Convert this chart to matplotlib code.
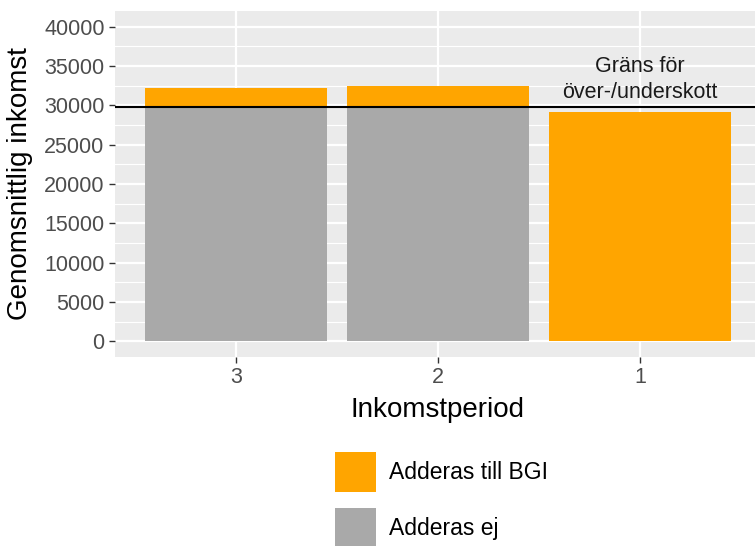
import matplotlib
matplotlib.use("Agg")
import matplotlib.pyplot as plt
import numpy as np

plt.rcParams['font.family'] = ['Liberation Sans', 'DejaVu Sans']

# Data
periods = ["3", "2", "1"]
adderas_ej = [29850, 29850, 0]          # gray part
adderas_bgi = [2350, 2650, 29200]       # orange part on top
threshold = 29850
annot_text = "Gräns för\növer-/underskott"
yticks = [0, 5000, 10000, 15000, 20000, 25000, 30000, 35000, 40000]

ORANGE = "#FFA500"
GRAY = "#A9A9A9"

W, H = 755, 546
fig = plt.figure(figsize=(W / 100, H / 100), dpi=100)
# axes in pixel coords: left 115, right 761, top 11, bottom 357
L, R, T, B = 115, 761, 11, 357
ax = fig.add_axes([L / W, 1 - B / H, (R - L) / W, (B - T) / H])
ax.set_facecolor("#EBEBEB")

x = np.arange(1, len(periods) + 1)
b1 = ax.bar(x, adderas_ej, width=0.9, color=GRAY, label="Adderas ej", zorder=2)
b2 = ax.bar(x, adderas_bgi, width=0.9, bottom=adderas_ej, color=ORANGE,
            label="Adderas till BGI", zorder=2)
ax.axhline(threshold, color="black", lw=1.5, zorder=3)
ax.text(3, 33300, annot_text, ha="center", va="center", fontsize=15.5,
        color="#1a1a1a", linespacing=1.35, zorder=4)

ax.set_xlim(0.4, 3.6)
ax.set_ylim(-2000, 42000)
ax.set_xticks(x)
ax.set_xticklabels(periods)
ax.set_yticks(yticks)
ax.set_yticklabels([str(v) for v in yticks])
ax.set_yticks(np.arange(2500, 42000, 5000), minor=True)

ax.grid(which="major", color="white", lw=1.6, zorder=0)
ax.grid(which="minor", axis="y", color="white", lw=0.8, zorder=0)
ax.set_axisbelow(True)
for s in ax.spines.values():
    s.set_visible(False)
ax.tick_params(axis="both", which="major", length=4.5, width=1, color="#333333",
               labelsize=15.5, labelcolor="#4D4D4D", pad=3)
ax.tick_params(axis="y", which="minor", length=0)

ax.set_xlabel("Inkomstperiod", fontsize=20, color="black", labelpad=6)
ax.set_ylabel("Genomsnittlig inkomst", fontsize=20, color="black", labelpad=8)

handles = [b2, b1]
leg = fig.legend(handles, ["Adderas till BGI", "Adderas ej"],
                 loc="upper left", bbox_to_anchor=(335 / W, 1 - 452 / H),
                 frameon=False, fontsize=16.5, handlelength=1.78,
                 handleheight=2.28, labelspacing=0.72, handletextpad=0.57,
                 borderpad=0, borderaxespad=0)

fig.savefig("out.png", dpi=100)
